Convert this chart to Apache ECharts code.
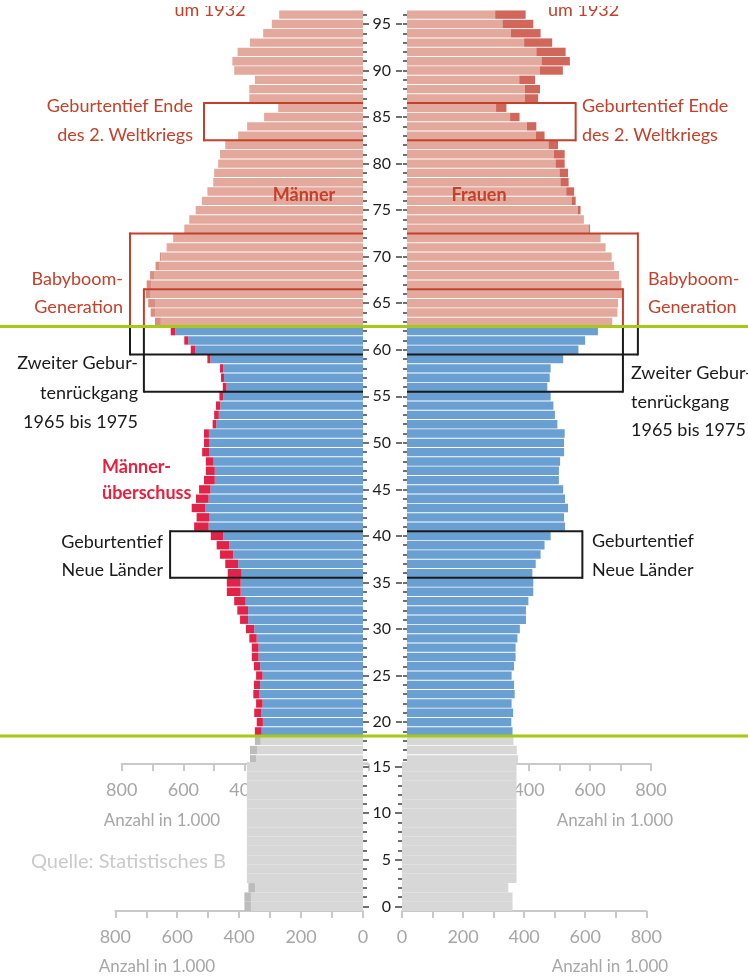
<!DOCTYPE html>
<html>
<head>
<meta charset="utf-8">
<title>Bevölkerungspyramide</title>
<script src="https://cdn.jsdelivr.net/npm/echarts@6/dist/echarts.min.js"></script>
<style>
  html, body { margin: 0; padding: 0; background: #fff; }
  #main { width: 748px; height: 977px; }
</style>
</head>
<body>
<div id="main"></div>
<script>
// Alter 0..96 (Kategorien der Alterachse)
var ages = [];
for (var a = 0; a <= 96; a++) ages.push(a);

// Männer, Anzahl in 1.000 (Index = Alter)
var maenner = [
  383, 383, 370, 375, 375, 375, 375, 375, 375, 375,   // 0-9
  375, 375, 375, 375, 375, 375, 384, 384, 368, 368,   // 10-19
  362, 370, 364, 373, 371, 364, 371, 378, 378, 386,   // 20-29
  397, 416, 425, 435, 459, 459, 456, 464, 481, 492,   // 30-39
  511, 565, 557, 573, 559, 549, 533, 527, 527, 539,   // 40-49
  533, 533, 505, 500, 494, 483, 472, 478, 481, 522,   // 50-59
  576, 597, 641, 692, 706, 714, 722, 719, 708, 690,   // 60-69
  676, 654, 633, 597, 581, 560, 540, 522, 503, 500,   // 70-79
  487, 481, 464, 422, 393, 338, 292, 386, 386, 368,   // 80-89
  435, 441, 424, 384, 341, 313, 289                   // 90-96
];

// Frauen, Anzahl in 1.000 (Index = Alter)
var frauen = [
  362, 362, 348, 375, 375, 375, 375, 375, 375, 375,   // 0-9
  375, 375, 375, 375, 375, 375, 364, 360, 349, 346,   // 10-19
  342, 348, 343, 353, 351, 343, 351, 356, 356, 362,   // 20-29
  370, 390, 390, 398, 414, 414, 411, 422, 438, 451,   // 30-39
  471, 518, 515, 528, 518, 512, 498, 498, 502, 515,   // 40-49
  515, 517, 493, 485, 480, 471, 460, 468, 471, 512,   // 50-59
  562, 584, 626, 673, 690, 692, 706, 703, 695, 679,   // 60-69
  671, 651, 634, 600, 580, 569, 553, 548, 530, 528,   // 70-79
  517, 517, 495, 451, 424, 369, 326, 430, 436, 420,   // 80-89
  511, 534, 520, 476, 438, 414, 389                   // 90-96
];

// Markierte Geburtsjahrgänge: Altersspanne und Breite der Kästen (in 1.000)
var kaesten = [
  { von: 83, bis: 86, maennerBis: 533, frauenBis: 553 },
  { von: 60, bis: 72, maennerBis: 773, frauenBis: 757 },
  { von: 56, bis: 66, maennerBis: 728, frauenBis: 708 },
  { von: 36, bis: 40, maennerBis: 643, frauenBis: 575 }
];

var xTicks = [0, 200, 400, 600, 800];

var rot = '#c4402a';
var farben = {
  grau: { basis: '#d7d7d7', plusM: '#bcbcbc', plusF: '#bcbcbc' },
  blau: { basis: '#6a9fd1', plusM: '#e1234a', plusF: '#e1234a' },
  rosa: { basis: '#e3a99c', plusM: '#da8e81', plusF: '#d1675a' }
};
function bereich(a) { return a <= 18 ? 'grau' : (a <= 62 ? 'blau' : 'rosa'); }

var obenAlter = ages.filter(function (a) { return a >= 16; });
var untenAlter = ages.filter(function (a) { return a <= 15; });

// Sockel = kleineres Geschlecht, Überschuss obendrauf
function reihen(liste, seite) {
  var basis = [], plus = [];
  liste.forEach(function (a) {
    var m = maenner[a], f = frauen[a], c = farben[bereich(a)];
    basis.push({ value: Math.min(m, f), itemStyle: { color: c.basis } });
    var d = seite === 'm' ? m - f : f - m;
    plus.push(d > 0 ? { value: d, itemStyle: { color: seite === 'm' ? c.plusM : c.plusF } } : '-');
  });
  return [basis, plus];
}

function xAchse(gi, inverse, nurGross) {
  return {
    type: 'value', gridIndex: gi, inverse: inverse, min: 0, max: 800, interval: 100,
    axisLine: { show: true, lineStyle: { color: '#c9c9c9', width: 2 } },
    axisTick: { show: true, length: 7, lineStyle: { color: '#c9c9c9', width: 2 } },
    splitLine: { show: false },
    axisLabel: {
      margin: 17, fontSize: 18, fontFamily: 'Lato', color: '#a6a6a6',
      formatter: function (v) {
        if (xTicks.indexOf(v) < 0) return '';
        if (nurGross && v < 400) return '';
        return String(v);
      }
    }
  };
}

function fuenfer(i, v) { return (+v) % 5 === 0; }

function yAchse(gi, liste, pos, offset, len, gross, labels, margin) {
  return {
    type: 'category', gridIndex: gi, data: liste.map(String), position: pos, offset: offset, z: 8,
    axisLine: { show: false },
    axisTick: {
      show: true, alignWithLabel: true, length: len, interval: gross ? fuenfer : 0,
      lineStyle: { color: '#707070', width: 2 }
    },
    axisLabel: {
      show: labels, interval: fuenfer, margin: margin,
      fontSize: 16, fontFamily: 'Lato', color: '#1e1e1e'
    },
    splitLine: { show: false }
  };
}

function balken(gi, daten, gap) {
  return { type: 'bar', xAxisIndex: gi, yAxisIndex: gi * 2, stack: 's' + gi,
           data: daten, barCategoryGap: gap, silent: true, z: 3 };
}

var oL = reihen(obenAlter, 'm'), oR = reihen(obenAlter, 'f');
var uL = reihen(untenAlter, 'm'), uR = reihen(untenAlter, 'f');

var chart = echarts.init(document.getElementById('main'));

var option = {
  animation: false,
  textStyle: { fontFamily: 'Lato' },
  grid: [
    { left: 121.7, right: 379.7, top: 10, bottom: 213, outerBoundsMode: 'none' },
    { left: 407, right: 97, top: 10, bottom: 213, outerBoundsMode: 'none' },
    { left: 115.3, right: 385, top: 762, bottom: 66, outerBoundsMode: 'none' },
    { left: 402, right: 101.7, top: 762, bottom: 66, outerBoundsMode: 'none' }
  ],
  xAxis: [xAchse(0, true, true), xAchse(1, false, true), xAchse(2, true, false), xAchse(3, false, false)],
  yAxis: [
    yAchse(0, obenAlter, 'right', -5.3, 4, false, false, 0),
    yAchse(0, obenAlter, 'right', -5.3, 6, true, false, 0),
    yAchse(1, obenAlter, 'left', 5, 4, false, true, 11),
    yAchse(1, obenAlter, 'left', 5, 6, true, false, 11),
    yAchse(2, untenAlter, 'right', 0, 4, false, false, 0),
    yAchse(2, untenAlter, 'right', 0, 6, true, false, 0),
    yAchse(3, untenAlter, 'left', 1, 4, false, true, 10),
    yAchse(3, untenAlter, 'left', 1, 6, true, false, 10)
  ],
  series: [
    balken(0, oL[0], '10%'), balken(0, oL[1], '10%'),
    balken(1, oR[0], '10%'), balken(1, oR[1], '10%'),
    balken(2, uL[0], '0%'), balken(2, uL[1], '0%'),
    balken(3, uR[0], '0%'), balken(3, uR[1], '0%')
  ]
};
chart.setOption(option);

// --- Beschriftungen, Kästen, Trennlinien ---
function px(gi, wert, alter) {
  var idx = gi < 2 ? alter - 16 : alter;
  return chart.convertToPixel({ xAxisIndex: gi, yAxisIndex: gi * 2 }, [wert, idx]);
}
var zeile = px(0, 0, 50)[1] - px(0, 0, 51)[1];
function grenzeOben(alter) { return px(0, 0, alter)[1] - zeile / 2; }
function grenzeUnten(alter) { return px(0, 0, alter)[1] + zeile / 2; }

var bandL = 363, bandR = 407;
var grenzeRosa = grenzeOben(62), grenzeGrau = grenzeUnten(19);

var g = [];
g.push({ type: 'rect', shape: { x: bandL, y: 10, width: bandR - bandL, height: 752 },
         style: { fill: '#fff' }, z: 4, silent: true });

function linie(x1, y1, x2, y2, farbe) {
  g.push({ type: 'line', shape: { x1: x1, y1: y1, x2: x2, y2: y2 },
           style: { stroke: farbe, lineWidth: 2 }, z: 5, silent: true });
}
function farbeBei(y) { return y < grenzeRosa ? rot : '#1a1a1a'; }

kaesten.forEach(function (k) {
  var yT = grenzeOben(k.bis), yB = grenzeUnten(k.von);
  var xl = px(0, k.maennerBis, k.von)[0];
  var xr = px(1, k.frauenBis, k.von)[0];
  [[xl, bandL], [xr, bandR]].forEach(function (p) {
    linie(p[0], yT, p[1], yT, farbeBei(yT));
    linie(p[0], yB, p[1], yB, farbeBei(yB));
    if (yT < grenzeRosa && yB > grenzeRosa) {
      linie(p[0], yT - 1, p[0], grenzeRosa, rot);
      linie(p[0], grenzeRosa, p[0], yB + 1, '#1a1a1a');
    } else {
      linie(p[0], yT - 1, p[0], yB + 1, farbeBei(yT));
    }
  });
});

function text(t, x, y, opt) {
  opt = opt || {};
  g.push({
    type: 'text', z: opt.z !== undefined ? opt.z : 6, silent: true,
    style: {
      text: t, x: x, y: y, align: opt.align || 'left', verticalAlign: 'middle',
      fill: opt.fill || rot, fontFamily: 'Lato',
      fontSize: opt.size || 18, fontWeight: opt.bold ? 'bold' : 'normal'
    }
  });
}

text('um 1932', 210, 10, { align: 'center' });
text('um 1932', 548, 10);
text('Geburtentief Ende', 193, 106, { align: 'right' });
text('des 2. Weltkriegs', 193, 135, { align: 'right' });
text('Geburtentief Ende', 582, 106);
text('des 2. Weltkriegs', 582, 135);
text('Männer', 304, 195, { align: 'center', bold: true });
text('Frauen', 479, 195, { align: 'center', bold: true });
text('Babyboom-', 123, 279, { align: 'right' });
text('Generation', 123, 307, { align: 'right' });
text('Babyboom-', 648, 279);
text('Generation', 648, 307);
text('Zweiter Gebur-', 138, 363, { align: 'right', fill: '#1a1a1a' });
text('tenrückgang', 138, 393, { align: 'right', fill: '#1a1a1a' });
text('1965 bis 1975', 138, 422, { align: 'right', fill: '#1a1a1a' });
text('Zweiter Gebur-', 631, 373, { fill: '#1a1a1a' });
text('tenrückgang', 631, 402, { fill: '#1a1a1a' });
text('1965 bis 1975', 631, 430, { fill: '#1a1a1a' });
text('Männer-', 102, 467, { fill: '#e8203f', bold: true });
text('überschuss', 102, 493, { fill: '#e8203f', bold: true });
text('Geburtentief', 163, 542, { align: 'right', fill: '#1a1a1a' });
text('Neue Länder', 163, 570, { align: 'right', fill: '#1a1a1a' });
text('Geburtentief', 592, 541, { fill: '#1a1a1a' });
text('Neue Länder', 592, 570, { fill: '#1a1a1a' });

text('Anzahl in 1.000', 162, 821, { align: 'center', fill: '#a6a6a6', size: 17 });
text('Anzahl in 1.000', 615, 821, { align: 'center', fill: '#a6a6a6', size: 17 });
text('Anzahl in 1.000', 157, 967, { align: 'center', fill: '#a6a6a6', size: 17 });
text('Anzahl in 1.000', 610, 967, { align: 'center', fill: '#a6a6a6', size: 17 });
// Quellenzeile liegt unter dem grauen Block
text('Quelle: Statistisches B', 31, 862, { fill: '#cacaca', size: 20, z: 0 });

// oberer Bildrand (abgeschnitten)
g.push({ type: 'rect', shape: { x: 0, y: 0, width: 748, height: 6 }, style: { fill: '#fff' }, z: 9, silent: true });

[grenzeRosa, grenzeGrau].forEach(function (y) {
  g.push({ type: 'line', shape: { x1: 0, y1: y, x2: 748, y2: y },
           style: { stroke: '#a6c817', lineWidth: 3 }, z: 10, silent: true });
});

chart.setOption({ graphic: g });
</script>
</body>
</html>
